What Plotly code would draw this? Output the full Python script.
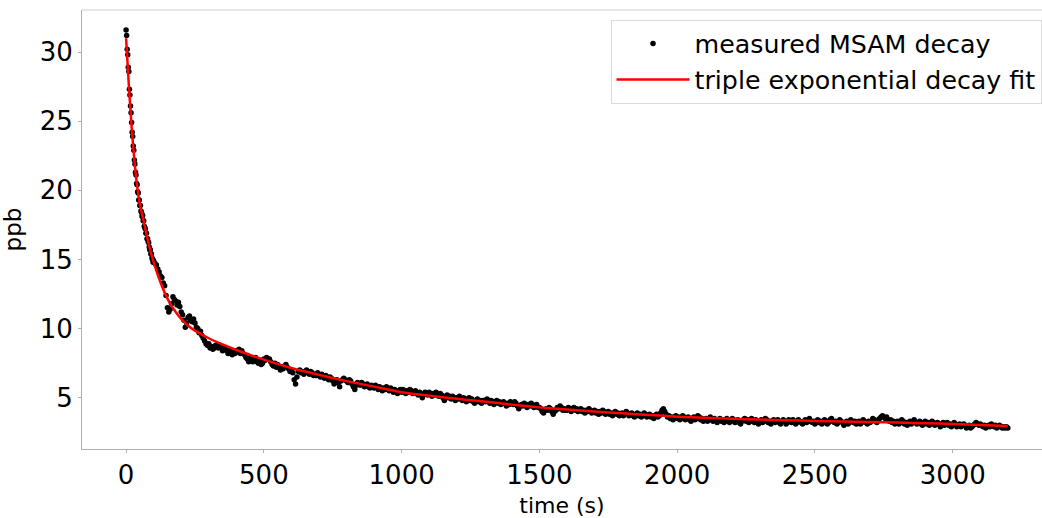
import plotly.graph_objects as go

time_early = list(range(0, 100, 2))
ppb_early = [31.6, 31.2, 30.2, 29.8, 28.9, 28.6, 27.3, 26.9, 26.1, 25.6,
             24.9, 24.2, 23.9, 23.2, 22.9, 22.2, 21.9, 21.3, 21.1, 20.5,
             20.4, 19.9, 19.8, 19.3, 19.3, 18.9, 18.9, 18.5, 18.4, 18.1,
             18.2, 17.8, 17.8, 17.4, 17.3, 17.2, 16.9, 16.9, 16.5, 16.5,
             16.3, 16.2, 15.9, 15.7, 15.7, 15.4, 15.4, 15.1, 15.0, 14.8]

time_main = list(range(100, 3201, 5))
ppb_main = [
    14.9, 14.7, 14.6, 14.3, 14.1, 13.8, 13.7, 13.3, 13.1, 12.4, 11.5, 11.2, 11.4, 11.8, 12.3, 12.1, 12.0, 11.7, 11.9, 11.6,
    11.2, 11.0, 10.6, 10.1, 10.4, 10.8, 10.9, 10.6, 10.5, 10.7, 10.4, 10.1, 10.0, 9.7, 9.8, 9.5, 9.3, 9.1, 8.9, 8.8,
    8.9, 8.6, 8.7, 8.5, 8.6, 8.8, 8.7, 8.6, 8.8, 8.7, 8.4, 8.6, 8.5, 8.4, 8.2, 8.4, 8.3, 8.1, 8.3, 8.2,
    8.4, 8.3, 8.5, 8.2, 8.4, 8.2, 8.1, 7.9, 7.8, 7.6, 7.9, 7.8, 7.6, 7.7, 7.9, 7.6, 7.5, 7.7, 7.4, 7.5,
    7.8, 7.7, 7.9, 7.8, 7.8, 7.6, 7.4, 7.3, 7.5, 7.2, 7.4, 7.2, 7.0, 7.2, 7.1, 7.3, 7.4, 7.2, 7.1, 6.9,
    7.0, 6.8, 6.3, 6.0, 6.5, 6.9, 7.0, 6.8, 6.9, 6.7, 6.9, 7.0, 6.8, 6.7, 6.9, 6.8, 6.6, 6.7, 6.6, 6.8,
    6.6, 6.5, 6.7, 6.5, 6.4, 6.6, 6.5, 6.3, 6.5, 6.4, 6.2, 6.0, 6.1, 6.3, 6.1, 5.8, 6.2, 6.3, 6.4, 6.3,
    6.2, 6.1, 6.3, 6.2, 6.0, 5.8, 5.6, 5.9, 6.1, 6.0, 5.9, 6.1, 6.0, 5.8, 5.9, 6.0, 5.8, 5.7, 5.9, 5.8,
    5.7, 5.9, 5.8, 5.6, 5.8, 5.7, 5.5, 5.7, 5.6, 5.8, 5.6, 5.5, 5.7, 5.6, 5.4, 5.6, 5.5, 5.3, 5.5, 5.6,
    5.4, 5.6, 5.5, 5.3, 5.5, 5.4, 5.6, 5.5, 5.3, 5.4, 5.5, 5.3, 5.2, 5.4, 5.3, 5.0, 5.2, 5.4, 5.3, 5.2,
    5.4, 5.3, 5.1, 5.3, 5.2, 5.4, 5.2, 5.1, 5.3, 5.2, 5.0, 4.8, 5.1, 5.2, 5.0, 5.1, 4.9, 5.1, 5.0, 4.8,
    5.0, 4.9, 5.1, 4.9, 4.8, 5.0, 4.9, 4.7, 4.9, 5.0, 4.8, 4.9, 4.7, 4.6, 4.8, 4.9, 4.7, 4.8, 4.6, 4.8,
    4.8, 4.7, 4.9, 4.8, 4.6, 4.8, 4.7, 4.5, 4.7, 4.8, 4.6, 4.7, 4.5, 4.6, 4.7, 4.6, 4.4, 4.6, 4.5, 4.7,
    4.6, 4.5, 4.7, 4.6, 4.4, 4.2, 4.4, 4.5, 4.4, 4.6, 4.5, 4.3, 4.5, 4.4, 4.6, 4.5, 4.3, 4.4, 4.5, 4.3,
    4.3, 4.2, 4.0, 3.9, 4.1, 4.2, 4.1, 4.3, 4.2, 4.0, 3.8, 4.0, 4.1, 4.3, 4.2, 4.4, 4.3, 4.1, 4.2, 4.1,
    4.1, 4.3, 4.2, 4.0, 4.2, 4.3, 4.1, 4.2, 4.0, 4.1, 4.2, 4.0, 4.1, 3.9, 4.1, 4.0, 4.2, 4.1, 3.9, 4.0,
    4.1, 3.9, 4.0, 3.8, 4.0, 3.9, 4.1, 4.0, 3.8, 3.9, 4.0, 3.8, 3.9, 3.7, 3.9, 4.0, 3.8, 3.9, 3.7, 3.8,
    3.9, 3.7, 3.8, 4.0, 3.9, 3.7, 3.8, 3.9, 3.7, 3.6, 3.8, 3.9, 3.7, 3.8, 3.6, 3.7, 3.9, 3.8, 3.6, 3.7,
    3.8, 3.6, 3.7, 3.5, 3.7, 3.8, 3.6, 3.7, 3.9, 4.1, 4.2, 4.0, 3.8, 3.6, 3.7, 3.5, 3.6, 3.4, 3.6, 3.7,
    3.5, 3.6, 3.4, 3.5, 3.7, 3.6, 3.4, 3.5, 3.6, 3.4, 3.3, 3.5, 3.6, 3.4, 3.5, 3.7, 3.6, 3.4, 3.5, 3.3,
    3.4, 3.5, 3.3, 3.4, 3.6, 3.4, 3.3, 3.5, 3.4, 3.2, 3.4, 3.5, 3.3, 3.4, 3.2, 3.3, 3.5, 3.4, 3.2, 3.3,
    3.5, 3.4, 3.2, 3.3, 3.4, 3.2, 3.1, 3.3, 3.4, 3.5, 3.3, 3.4, 3.2, 3.3, 3.5, 3.3, 3.2, 3.4, 3.3, 3.1,
    3.3, 3.4, 3.2, 3.3, 3.5, 3.4, 3.2, 3.3, 3.1, 3.3, 3.4, 3.2, 3.3, 3.4, 3.2, 3.1, 3.3, 3.4, 3.3, 3.1,
    3.2, 3.4, 3.3, 3.2, 3.4, 3.3, 3.1, 3.2, 3.4, 3.3, 3.2, 3.1, 3.3, 3.4, 3.2, 3.3, 3.5, 3.3, 3.2, 3.3,
    3.1, 3.3, 3.4, 3.2, 3.3, 3.1, 3.2, 3.4, 3.3, 3.1, 3.2, 3.4, 3.5, 3.3, 3.2, 3.3, 3.1, 3.2, 3.4, 3.3,
    3.2, 3.0, 3.2, 3.3, 3.1, 3.2, 3.4, 3.3, 3.2, 3.3, 3.1, 3.2, 3.3, 3.1, 3.2, 3.4, 3.3, 3.2, 3.1, 3.3,
    3.2, 3.3, 3.5, 3.4, 3.3, 3.2, 3.4, 3.5, 3.6, 3.7, 3.6, 3.5, 3.6, 3.4, 3.3, 3.4, 3.2, 3.3, 3.1, 3.2,
    3.3, 3.1, 3.2, 3.4, 3.3, 3.1, 3.2, 3.0, 3.2, 3.3, 3.1, 3.2, 3.4, 3.2, 3.1, 3.2, 3.3, 3.1, 3.0, 3.2,
    3.3, 3.1, 3.2, 3.0, 3.1, 3.3, 3.2, 3.0, 3.1, 3.2, 3.1, 2.9, 3.1, 3.2, 3.0, 3.1, 3.2, 3.0, 3.1, 2.9,
    3.0, 3.2, 3.1, 2.9, 3.0, 3.1, 2.9, 3.0, 3.1, 3.0, 2.8, 2.9, 3.0, 2.8, 2.9, 3.0, 3.1, 3.2, 3.1, 3.0,
    3.1, 3.0, 2.9, 3.0, 2.8, 2.9, 3.0, 2.9, 3.1, 3.0, 2.9, 3.0, 2.8, 2.9, 3.0, 2.9, 2.8, 2.9, 2.8, 2.9,
    2.8,
]

# ---- fitted curve ----
fit_time = [0, 10, 20, 30, 40, 50, 60, 70, 80, 90, 100, 120, 140, 160, 180, 200, 225, 250,
            300, 350, 400, 450, 500, 600, 700, 800, 900, 1000, 1100, 1200, 1300, 1400, 1500,
            1600, 1700, 1800, 1900, 2000, 2100, 2200, 2300, 2400, 2500, 2600, 2700, 2800,
            2900, 3000, 3100, 3200]
fit_ppb = [31.0, 27.6, 24.6, 22.2, 20.3, 19.0, 18.1, 17.2, 16.3, 15.5, 14.8, 13.6, 12.6, 11.8,
           11.2, 10.7, 10.2, 9.85, 9.3, 8.85, 8.45, 8.1, 7.75, 7.15, 6.65, 6.2, 5.8, 5.4, 5.15,
           4.92, 4.72, 4.5, 4.3, 4.15, 4.0, 3.87, 3.75, 3.63, 3.55, 3.48, 3.42, 3.37, 3.32,
           3.28, 3.24, 3.2, 3.15, 3.1, 3.03, 2.95]

x_ticks = [0, 500, 1000, 1500, 2000, 2500, 3000]
y_ticks = [5, 10, 15, 20, 25, 30]

time_all = time_early + time_main
ppb_all = ppb_early + ppb_main

FONT = "DejaVu Sans"
AXIS_GREY = "#b0b0b0"

fig = go.Figure()
fig.add_trace(go.Scatter(
    x=time_all, y=ppb_all, mode="markers", name="measured MSAM decay",
    marker=dict(color="black", size=5.5, line=dict(width=0)),
))
fig.add_trace(go.Scatter(
    x=fit_time, y=fit_ppb, mode="lines", name="triple exponential decay fit",
    line=dict(color="#ff0000", width=2.5, shape="spline", smoothing=0.6),
))

fig.update_layout(
    width=1042, height=518,
    margin=dict(l=82, r=0, t=10, b=66),
    paper_bgcolor="white", plot_bgcolor="white",
    font=dict(family=FONT, size=26, color="black"),
    showlegend=True,
    legend=dict(
        x=0.9995, xanchor="right", y=0.978, yanchor="top",
        bgcolor="white", bordercolor="#dcdcdc", borderwidth=1,
        font=dict(family=FONT, size=25.3, color="black"),
        itemwidth=73, tracegroupgap=0,
    ),
    xaxis=dict(
        range=[-160, 3324], tickvals=x_ticks, ticktext=[str(v) for v in x_ticks],
        showgrid=False, zeroline=False, showline=True, linecolor=AXIS_GREY, linewidth=1,
        ticks="outside", ticklen=3, tickcolor=AXIS_GREY,
        tickfont=dict(family=FONT, size=26),
        title=dict(text="time (s)", font=dict(family=FONT, size=22), standoff=12),
    ),
    yaxis=dict(
        range=[1.29, 33.04], tickvals=y_ticks, ticktext=[str(v) for v in y_ticks],
        showgrid=False, zeroline=False, showline=True, linecolor=AXIS_GREY, linewidth=1,
        ticks="outside", ticklen=3, tickcolor=AXIS_GREY,
        tickfont=dict(family=FONT, size=26),
        title=dict(text="ppb", font=dict(family=FONT, size=23), standoff=11),
    ),
    shapes=[dict(type="line", xref="paper", yref="paper", x0=0, x1=1, y0=1, y1=1,
                 line=dict(color="#e6e6e6", width=2))],
)

fig.write_html("out.html")
